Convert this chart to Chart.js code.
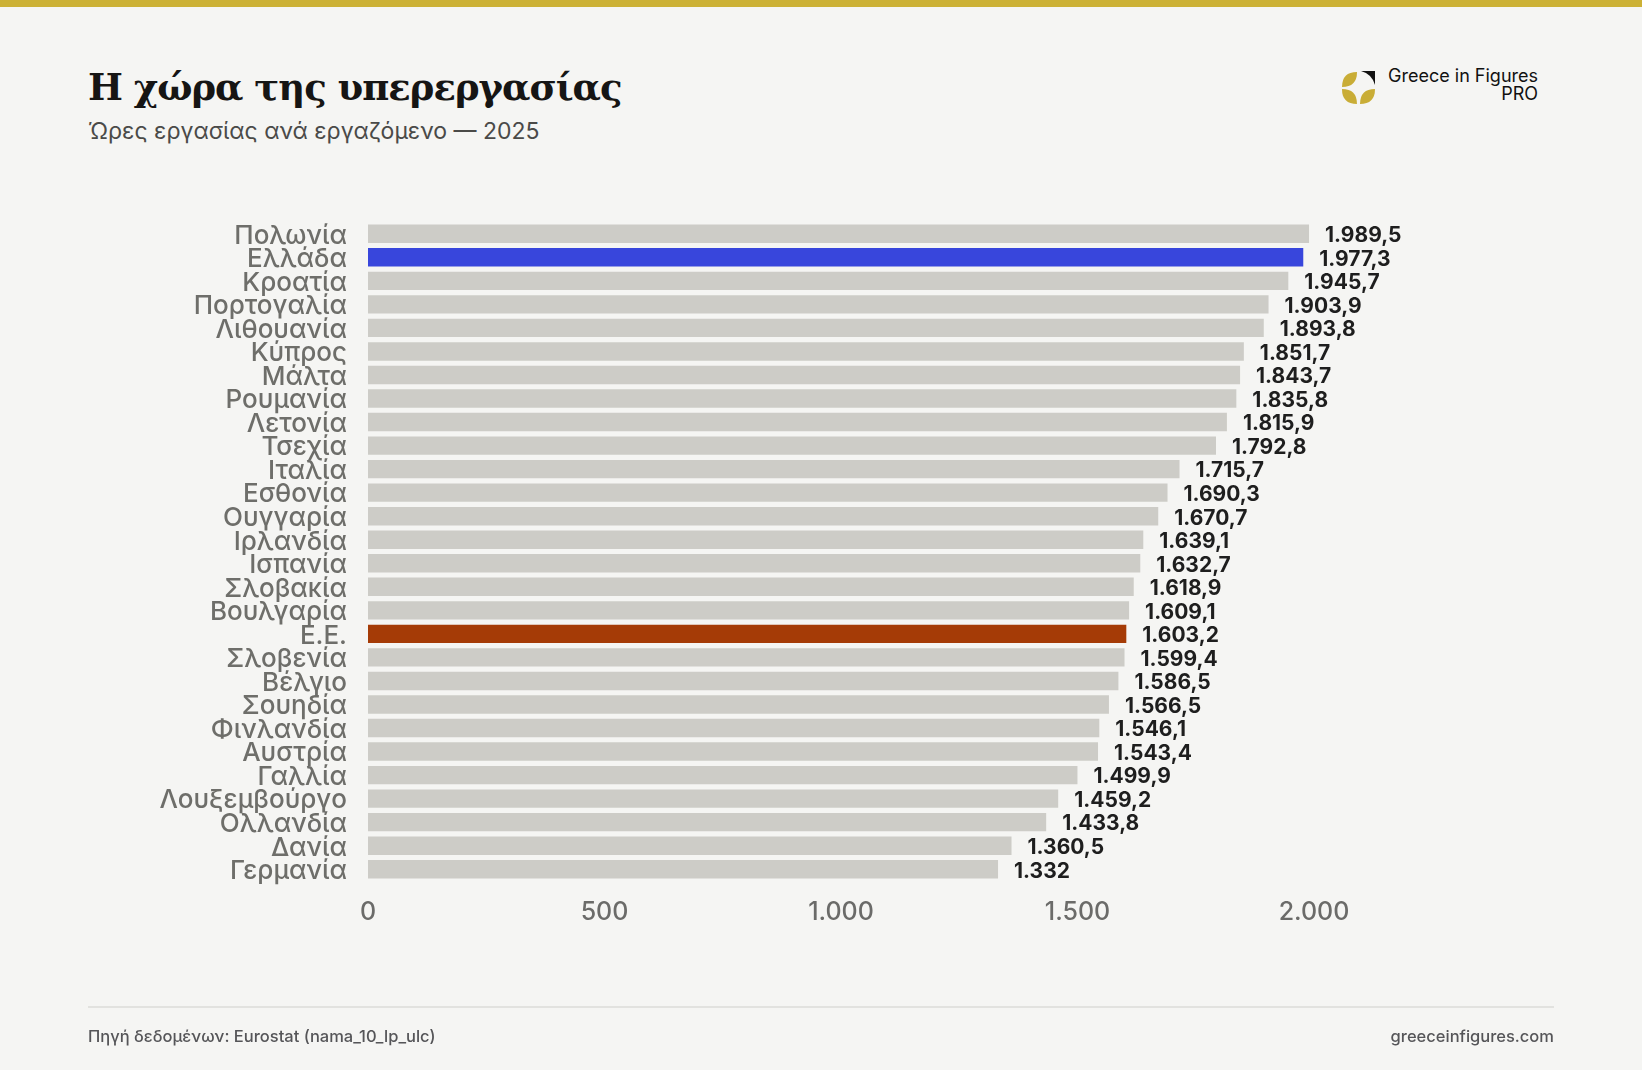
<!DOCTYPE html>
<html lang="el">
<head>
<meta charset="utf-8">
<title>Η χώρα της υπερεργασίας</title>
<script src="https://cdn.jsdelivr.net/npm/chart.js@4.4.1/dist/chart.umd.min.js"></script>
<style>
  html, body { margin: 0; padding: 0; }
  body {
    width: 1642px; height: 1070px; position: relative; overflow: hidden;
    background: #f5f5f3; font-family: Inter, "Noto Sans", sans-serif;
  }
  .topbar { position: absolute; left: 0; top: 0; width: 1642px; height: 7px; background: #ccb135; }
  .title {
    position: absolute; left: 88px; top: 65px; margin: 0;
    font-family: "DejaVu Serif", "Liberation Serif", serif; font-weight: 700;
    font-size: 37px; line-height: 44px; color: #161514; letter-spacing: -1px;
  }
  .subtitle {
    position: absolute; left: 88px; top: 117px; margin: 0;
    font-size: 23px; line-height: 28px; color: #4a4a48;
  }
  .brand { position: absolute; left: 1342px; top: 71px; width: 196px; height: 34px; }
  .brand svg { position: absolute; left: 0; top: 0; }
  .brand .name {
    position: absolute; right: 0; top: -4px; text-align: right;
    font-size: 18px; line-height: 18px; color: #111; white-space: nowrap;
  }
  .footer-rule { position: absolute; left: 88px; top: 1006px; width: 1466px; height: 2px; background: #e2e2df; }
  .footer {
    position: absolute; top: 1026px; font-size: 16.5px; line-height: 20px; color: #555558; font-weight: 500;
  }
  .footer.left { left: 88px; }
  .footer.right { right: 88px; text-align: right; }
  #chart-wrap { position: absolute; left: 0; top: 0; width: 1642px; height: 1070px; }
</style>
</head>
<body>
  <div class="topbar"></div>
  <h1 class="title">Η χώρα της υπερεργασίας</h1>
  <p class="subtitle">Ώρες εργασίας ανά εργαζόμενο — 2025</p>

  <div class="brand">
    <svg width="34" height="34" viewBox="0 0 34 34">
      <path d="M15,1 Q0,1 0,16 Q15,16 15,1Z" fill="#c9ad36"/>
      <path d="M0,18 Q0,33 15,33 Q15,18 0,18Z" fill="#c9ad36"/>
      <path d="M33,18 Q18,18 18,33 Q33,33 33,18Z" fill="#c9ad36"/>
      <path d="M19,0 L33,0 L33,14 Q30,3 19,0Z" fill="#111"/>
    </svg>
    <div class="name">Greece in Figures<br>PRO</div>
  </div>

  <div id="chart-wrap"><canvas id="chart"></canvas></div>

  <div class="footer-rule"></div>
  <div class="footer left">Πηγή δεδομένων: Eurostat (nama_10_lp_ulc)</div>
  <div class="footer right">greeceinfigures.com</div>

<script>
// Data (hours worked per employed person, 2025)
const countries = [
  'Πολωνία', 'Ελλάδα', 'Κροατία', 'Πορτογαλία', 'Λιθουανία', 'Κύπρος', 'Μάλτα',
  'Ρουμανία', 'Λετονία', 'Τσεχία', 'Ιταλία', 'Εσθονία', 'Ουγγαρία', 'Ιρλανδία',
  'Ισπανία', 'Σλοβακία', 'Βουλγαρία', 'Ε.Ε.', 'Σλοβενία', 'Βέλγιο', 'Σουηδία',
  'Φινλανδία', 'Αυστρία', 'Γαλλία', 'Λουξεμβούργο', 'Ολλανδία', 'Δανία', 'Γερμανία'
];
const hours = [
  1989.5, 1977.3, 1945.7, 1903.9, 1893.8, 1851.7, 1843.7,
  1835.8, 1815.9, 1792.8, 1715.7, 1690.3, 1670.7, 1639.1,
  1632.7, 1618.9, 1609.1, 1603.2, 1599.4, 1586.5, 1566.5,
  1546.1, 1543.4, 1499.9, 1459.2, 1433.8, 1360.5, 1332
];
const xTicks = [0, 500, 1000, 1500, 2000];

const BAR_GREY = '#cdccc7';
const highlights = { 'Ελλάδα': '#3846dc', 'Ε.Ε.': '#a53b06' };

// 1989.5 -> "1.989,5"
function formatGreek(v) {
  const parts = String(v).split('.');
  const intPart = parts[0].replace(/\B(?=(\d{3})+(?!\d))/g, '.');
  return parts[1] ? `${intPart},${parts[1]}` : intPart;
}

const valueLabels = {
  id: 'valueLabels',
  afterDatasetsDraw(chart) {
    const { ctx } = chart;
    const meta = chart.getDatasetMeta(0);
    ctx.save();
    ctx.font = '700 21px Inter, "Noto Sans", sans-serif';
    ctx.fillStyle = '#1e1e1e';
    ctx.textAlign = 'left';
    ctx.textBaseline = 'middle';
    meta.data.forEach((bar, i) => {
      ctx.fillText(formatGreek(hours[i]), bar.x + 16, bar.y + 2);
    });
    ctx.restore();
  }
};

new Chart(document.getElementById('chart'), {
  type: 'bar',
  data: {
    labels: countries,
    datasets: [{
      data: hours,
      backgroundColor: countries.map(c => highlights[c] || BAR_GREY),
      borderWidth: 0,
      barPercentage: 0.78,
      categoryPercentage: 1
    }]
  },
  options: {
    indexAxis: 'y',
    responsive: true,
    maintainAspectRatio: false,
    animation: false,
    devicePixelRatio: 1,
    layout: { padding: { left: 0, right: 328, top: 222, bottom: 129 } },
    plugins: { legend: { display: false }, tooltip: { enabled: false } },
    scales: {
      x: {
        min: 0,
        max: 2000,
        afterBuildTicks: (scale) => { scale.ticks = xTicks.map(v => ({ value: v })); },
        afterFit: (scale) => { scale.height = 60; },
        grid: { display: false, drawTicks: false },
        border: { display: false },
        ticks: {
          padding: 16,
          color: '#6b6b69',
          font: { family: 'Inter, "Noto Sans", sans-serif', size: 25, weight: '500' },
          callback: (v) => formatGreek(v)
        }
      },
      y: {
        afterFit: (scale) => { scale.width = 368; },
        grid: { display: false, drawTicks: false },
        border: { display: false },
        ticks: {
          padding: 21,
          labelOffset: 2,
          autoSkip: false,
          color: '#6e6e6a',
          font: { family: 'Inter, "Noto Sans", sans-serif', size: 26, weight: '500' }
        }
      }
    }
  },
  plugins: [valueLabels]
});
</script>
</body>
</html>
